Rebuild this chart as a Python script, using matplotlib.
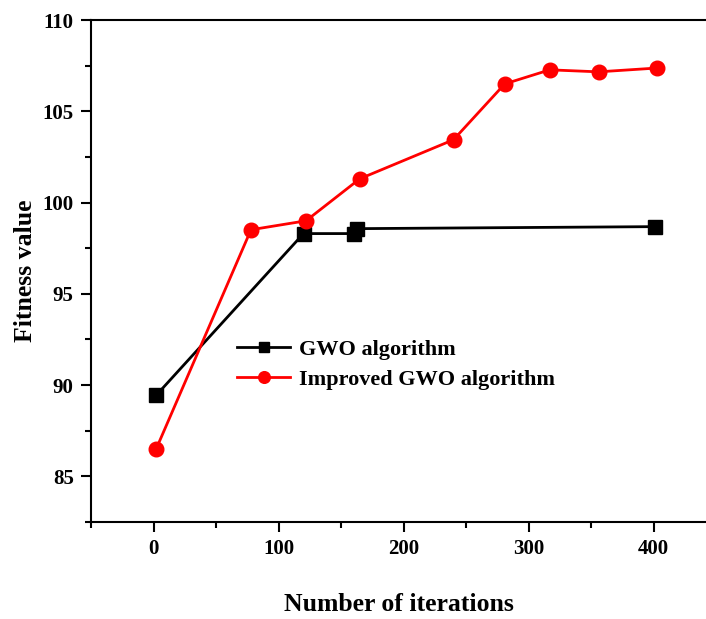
import matplotlib.pyplot as plt
from matplotlib.ticker import MultipleLocator

plt.rcParams['font.family'] = ['Liberation Serif', 'DejaVu Serif']
plt.rcParams['font.weight'] = 'bold'

# 数据
gwo_x = [2, 120, 160, 163, 401]
gwo_y = [89.43, 98.3, 98.3, 98.57, 98.68]
igwo_x = [2, 78, 122, 165, 240, 281, 317, 356, 403]
igwo_y = [86.48, 98.51, 99.0, 101.3, 103.44, 106.5, 107.27, 107.16, 107.37]

fig = plt.figure(figsize=(7.06, 6.19), dpi=100)
ax = fig.add_axes([91 / 706, 1 - 522 / 619, 1 - 91 / 706, (522 - 20) / 619])

ax.plot(gwo_x, gwo_y, color='black', linewidth=2, marker='s', markersize=9.5,
        label='GWO algorithm', clip_on=False)
ax.plot(igwo_x, igwo_y, color='red', linewidth=2, marker='o', markersize=10.5,
        label='Improved GWO algorithm', clip_on=False)

ax.set_xlim(-50, 442)
ax.set_ylim(82.5, 110)
ax.xaxis.set_major_locator(MultipleLocator(100))
ax.xaxis.set_minor_locator(MultipleLocator(50))
ax.yaxis.set_major_locator(MultipleLocator(5))
ax.yaxis.set_minor_locator(MultipleLocator(2.5))
ax.tick_params(which='major', direction='out', length=7.5, width=1.5, labelsize=15, pad=5)
ax.tick_params(which='minor', direction='out', length=4, width=1.5)
ax.spines['right'].set_visible(False)
for s in ['left', 'bottom', 'top']:
    ax.spines[s].set_linewidth(1.5)

ax.set_xlabel('Number of iterations', fontsize=18.5, fontweight='bold', labelpad=24)
ax.set_ylabel('Fitness value', fontsize=18.5, fontweight='bold', labelpad=4)

ax.legend(loc='upper left', bbox_to_anchor=(226 / 706, 1 - 328 / 619),
          bbox_transform=fig.transFigure, frameon=False, fontsize=16,
          handlelength=2.4, handletextpad=0.4, labelspacing=0.45, borderpad=0,
          markerscale=0.8)

fig.savefig('out.png', dpi=100)
